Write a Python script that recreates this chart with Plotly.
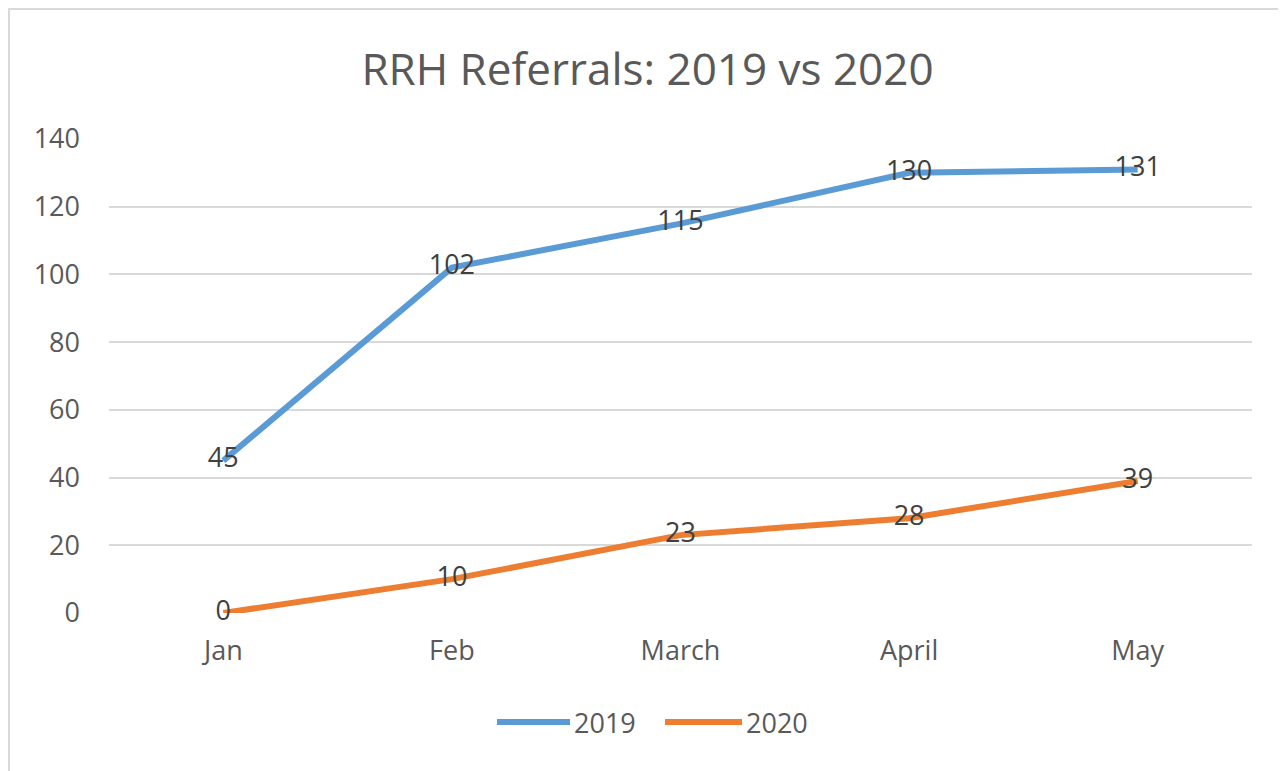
import plotly.graph_objects as go

months = ["Jan", "Feb", "March", "April", "May"]
series_names = ["2019", "2020"]
values_2019 = [45, 102, 115, 130, 131]
values_2020 = [0, 10, 23, 28, 39]
y_ticks = [0, 20, 40, 60, 80, 100, 120, 140]
title_text = "RRH Referrals: 2019 vs 2020"

colors = ["#5B9BD5", "#ED7D31"]
FONT = "Open Sans"

fig = go.Figure()
for name, vals, col in zip(series_names, [values_2019, values_2020], colors):
    fig.add_trace(go.Scatter(
        x=months, y=vals, name=name, mode="lines+text",
        line=dict(color=col, width=6),
        text=[str(v) for v in vals], textposition="middle center",
        textfont=dict(family=FONT, size=27, color="#404040"),
        cliponaxis=False, showlegend=False,
    ))

# figure coords (the page adds an 8px body margin)
W, H = 1286, 771
L, R, T, B = 101, 42, 131, 166
pw, ph = W - L - R, H - T - B

def px(x):
    return (x - L) / pw

def py(y):
    return (H - B - y) / ph

shapes = [dict(type="rect", xref="paper", yref="paper", x0=px(1), x1=px(W + 20), y0=py(1), y1=py(H + 20),
               line=dict(color="#D9D9D9", width=2), fillcolor="rgba(0,0,0,0)")]
annotations = []
leg_lines = [(489, 562), (657, 734)]
for (x0, x1), name, col in zip(leg_lines, series_names, colors):
    shapes.append(dict(type="line", xref="paper", yref="paper", x0=px(x0), x1=px(x1), y0=py(714), y1=py(714),
                       line=dict(color=col, width=6)))
    annotations.append(dict(text=name, xref="paper", yref="paper", x=px(x1 + 2), y=py(714),
                            xanchor="left", yanchor="middle", showarrow=False,
                            font=dict(family=FONT, size=27, color="#595959")))

fig.update_layout(
    width=W, height=H,
    margin=dict(l=L, r=R, t=T, b=B),
    paper_bgcolor="white", plot_bgcolor="white",
    title=dict(text=title_text, xref="container", x=639.5 / W, xanchor="center",
               yref="container", y=1 - 62 / H, yanchor="middle",
               font=dict(family=FONT, size=44, color="#595959")),
    xaxis=dict(range=[-0.5, 4.5], showgrid=False, zeroline=False, showline=False,
               ticks="", tickfont=dict(family=FONT, size=27, color="#595959"),
               ticklabelstandoff=19),
    yaxis=dict(range=[0, 140], tickvals=y_ticks, showgrid=True, gridcolor="#D9D9D9", gridwidth=1.5,
               zeroline=False, showline=False, ticks="",
               tickfont=dict(family=FONT, size=27, color="#595959"),
               ticklabelstandoff=28),
    showlegend=False,
    shapes=shapes,
    annotations=annotations,
)

fig.write_html("out.html")
